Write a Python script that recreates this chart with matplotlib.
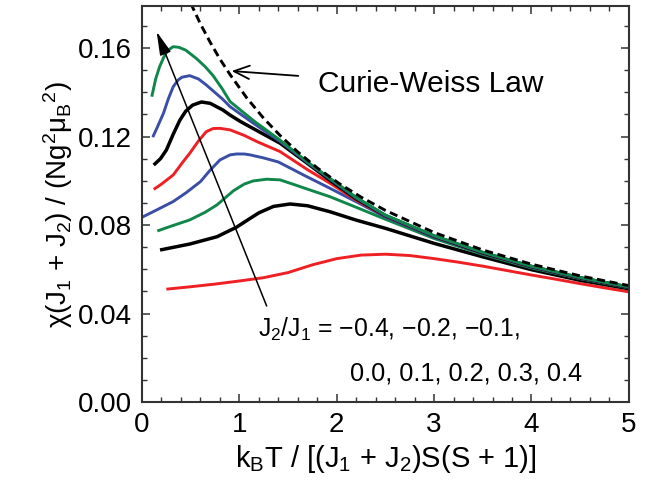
import matplotlib
matplotlib.use("Agg")
from matplotlib import pyplot as plt

plt.rcParams['font.family'] = ['Liberation Sans', 'DejaVu Sans']
plt.rcParams['mathtext.fontset'] = 'custom'
plt.rcParams['mathtext.rm'] = 'Liberation Sans'
plt.rcParams['mathtext.it'] = 'Liberation Sans:italic'
plt.rcParams['mathtext.default'] = 'regular'

# susceptibility curves, J2/J1 = -0.4 ... 0.4
tail_x = [3.0, 3.5, 4.0, 4.5, 5.0]

x1 = [0.25, 0.5, 0.75, 1.0, 1.25, 1.5, 1.75, 2.0, 2.25, 2.5, 2.75, 3.0, 3.25, 3.5, 3.75, 4.0, 4.25, 4.5, 4.75, 5.0]
y1 = [0.0510, 0.0521, 0.0533, 0.0547, 0.0562, 0.0585, 0.0620, 0.0648, 0.0664, 0.0668, 0.0662, 0.0648, 0.0632, 0.0614, 0.0594, 0.0574, 0.0555, 0.0535, 0.0516, 0.0498]

x2 = [0.185, 0.49, 0.77, 0.97, 1.1, 1.2, 1.35, 1.52, 1.7, 1.93, 2.2, 2.5] + tail_x
y2 = [0.0687, 0.0714, 0.0747, 0.0790, 0.0827, 0.0855, 0.0884, 0.0895, 0.0887, 0.0860, 0.0822, 0.0785,
      0.0717, 0.0656, 0.0598, 0.0550, 0.0512]

x3 = [0.157, 0.3, 0.49, 0.65, 0.77, 0.86, 0.94, 1.05, 1.14, 1.28, 1.417, 1.52, 1.7, 1.93, 2.2, 2.5] + tail_x
y3 = [0.0773, 0.0795, 0.0823, 0.0858, 0.0891, 0.0925, 0.0955, 0.0985, 0.0999, 0.1007, 0.1004, 0.0989, 0.0962, 0.0928, 0.0880, 0.0826,
      0.0739, 0.0667, 0.0606, 0.0557, 0.0516]

x4 = [0.0, 0.15, 0.32, 0.45, 0.6, 0.7, 0.8, 0.904, 0.97, 1.05, 1.11, 1.25, 1.4, 1.69, 1.93, 2.2, 2.5] + tail_x
y4 = [0.0835, 0.0868, 0.0906, 0.0945, 0.0996, 0.1048, 0.1094, 0.1117, 0.1121, 0.1121, 0.1117, 0.1103, 0.1085, 0.1019, 0.0966, 0.0905, 0.0836,
      0.0745, 0.0671, 0.0609, 0.0559, 0.0518]

x5 = [0.12, 0.2, 0.32, 0.42, 0.49, 0.58, 0.66, 0.73, 0.8, 0.904, 1.05, 1.18, 1.417, 1.7, 1.93, 2.2, 2.5] + tail_x
y5 = [0.0961, 0.0985, 0.1026, 0.1085, 0.1124, 0.1180, 0.1222, 0.1236, 0.1237, 0.1230, 0.1205, 0.1177, 0.1132, 0.1050, 0.0989, 0.0912, 0.0840,
      0.0748, 0.0673, 0.0611, 0.0560, 0.0519]

x6 = [0.12, 0.19, 0.25, 0.32, 0.39, 0.45, 0.52, 0.61, 0.7, 0.83, 0.904, 1.01, 1.2, 1.417, 1.7, 1.93, 2.2, 2.5] + tail_x
y6 = [0.1071, 0.1100, 0.1139, 0.1210, 0.1275, 0.1315, 0.1342, 0.1356, 0.1350, 0.1320, 0.1297, 0.1268, 0.1222, 0.1170, 0.1078, 0.1002, 0.0918, 0.0842,
      0.0749, 0.0674, 0.0612, 0.0561, 0.0519]

x7 = [0.11, 0.16, 0.22, 0.27, 0.32, 0.37, 0.41, 0.49, 0.58, 0.66, 0.83, 0.904, 1.15, 1.417, 1.7, 1.93, 2.2, 2.5] + tail_x
y7 = [0.1197, 0.1245, 0.1305, 0.1370, 0.1425, 0.1455, 0.1468, 0.1475, 0.1460, 0.1433, 0.1368, 0.1335, 0.1258, 0.1178, 0.1082, 0.1008, 0.0922, 0.0843,
      0.0750, 0.0676, 0.0613, 0.0562, 0.0520]

x8 = [0.10, 0.14, 0.18, 0.22, 0.26, 0.32, 0.38, 0.45, 0.56, 0.65, 0.73, 0.82, 0.904, 1.15, 1.417, 1.7, 1.93, 2.2, 2.5] + tail_x
y8 = [0.1380, 0.1460, 0.1515, 0.1555, 0.1588, 0.1606, 0.1603, 0.1590, 0.1552, 0.1515, 0.1475, 0.1418, 0.1358, 0.1270, 0.1184, 0.1085, 0.1011, 0.0925, 0.0845,
      0.0752, 0.0677, 0.0614, 0.0563, 0.0521]

# Curie-Weiss law (dashed)
xcw = [0.5, 0.6, 0.7, 0.8, 0.904, 1.075, 1.25, 1.417, 1.6, 1.8, 2.03, 2.25, 2.5, 3.0, 3.5, 4.0, 4.5, 5.0]
ycw = [0.1802, 0.1709, 0.1626, 0.1550, 0.1480, 0.1375, 0.1282, 0.1205, 0.1130, 0.1058, 0.0986, 0.0926, 0.0866,
       0.0766, 0.0687, 0.0623, 0.0570, 0.0526]

red = '#ee2024'
green = '#10874a'
blue = '#3a4ea6'
curves = [(x1, y1, red), (x2, y2, 'black'), (x3, y3, green), (x4, y4, blue),
          (x5, y5, red), (x6, y6, 'black'), (x7, y7, blue), (x8, y8, green)]

fig = plt.figure(figsize=(6.53, 4.90), dpi=100)
ax = fig.add_axes([0.2175, 0.1796, 0.7455, 0.8082])

for xs, ys, c in curves:
    ax.plot(xs, ys, color=c, lw=2.5 if c == 'black' else 2.1, solid_capstyle='butt', solid_joinstyle='round')
ax.plot(xcw, ycw, color='black', lw=2.1, linestyle=(0, (2.8, 1.6)))

ax.set_xlim(0, 5)
ax.set_ylim(0, 0.179)
ax.set_xticks([0, 1, 2, 3, 4, 5])
ax.set_xticks([i * 0.2 for i in range(26)], minor=True)
ax.set_yticks([0.0, 0.04, 0.08, 0.12, 0.16])
ax.set_yticklabels(['0.00', '0.04', '0.08', '0.12', '0.16'])
ax.set_yticks([i * 0.01 for i in range(18)], minor=True)
ax.tick_params(which='both', direction='in', top=True, right=True, colors='#333333', labelcolor='black',
               labelsize=20)
ax.tick_params(which='major', length=6, width=1.1, pad=7)
ax.tick_params(which='minor', length=3.5, width=1.0)
for s in ax.spines.values():
    s.set_color('#333333')
    s.set_linewidth(1.5)

ax.set_xlabel('k$_B$T / [(J$_1$ + J$_2$)S(S + 1)]', fontsize=21, labelpad=4)
ax.set_ylabel('χ(J$_1$ + J$_2$) / (Ng$^2$μ$_B$$^2$)', fontsize=20, labelpad=2)

ax.annotate('', xy=(0.15, 0.1674), xytext=(1.28, 0.0434),
            arrowprops=dict(arrowstyle='-|>,head_length=0.9,head_width=0.22', lw=1.1, color='black',
                            shrinkA=0, shrinkB=0, mutation_scale=16))
ax.annotate('', xy=(0.92, 0.1496), xytext=(1.605, 0.1474),
            arrowprops=dict(arrowstyle='->,head_length=0.7,head_width=0.3', lw=1.3, color='black',
                            shrinkA=0, shrinkB=0, mutation_scale=16))
ax.text(1.807, 0.1403, 'Curie-Weiss Law', fontsize=21.5, va='baseline', ha='left')
ax.text(1.19, 0.0294, 'J$_2$/J$_1$ = \u22120.4, \u22120.2, \u22120.1,', fontsize=17.8, va='baseline', ha='left')
ax.text(2.135, 0.0095, '0.0, 0.1, 0.2, 0.3, 0.4', fontsize=18.3, va='baseline', ha='left')

fig.savefig('out.png', dpi=100)
